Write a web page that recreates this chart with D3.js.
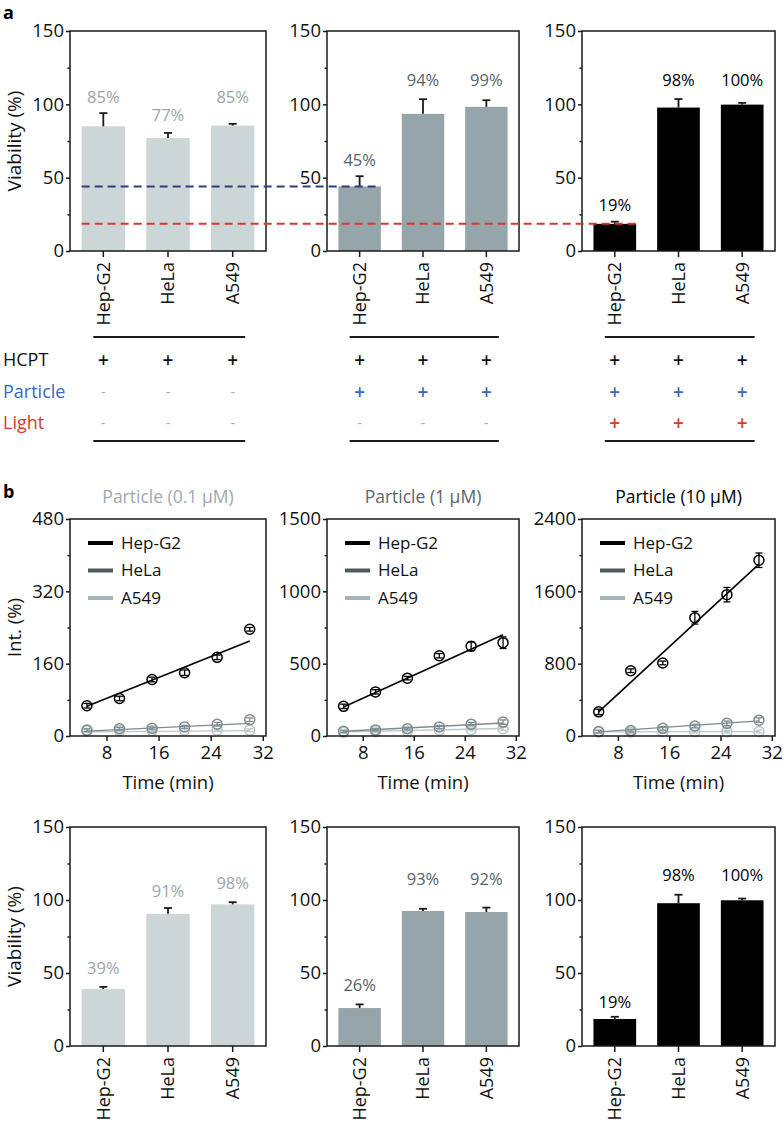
<!DOCTYPE html>
<html><head><meta charset="utf-8">
<script src="https://cdn.jsdelivr.net/npm/d3@7"></script>
<style>
body{margin:0;background:#fff;}
svg{display:block;font-family:"Open Sans","Noto Sans",sans-serif;}
</style></head><body>
<svg id="chart" width="784" height="1122"></svg>
<script>
// ---------------- DATA ----------------
const cellLines = ["Hep-G2", "HeLa", "A549"];
const viabilityTicks = [0, 50, 100, 150];
const viabilityMinor = [25, 75, 125];

// panel a: viability (%) for HCPT / HCPT+Particle / HCPT+Particle+Light
const viabilityA = [[85, 77, 85.5], [44, 93.5, 98.3], [18.5, 97.8, 99.8]];
const viabilityAErr = [[9, 3.5, 1.2], [7, 10, 4.5], [1.5, 5.8, 1.2]];
const viabilityALabels = [["85%", "77%", "85%"], ["45%", "94%", "99%"], ["19%", "98%", "100%"]];
const viabilityALabelAt = [[101, 88.6, 101], [58, 112.5, 112.5], [27.3, 112.5, 112.5]];

// treatment table
const treatments = ["HCPT", "Particle", "Light"];
const treatmentMarks = [
  [["+", "+", "+"], ["-", "-", "-"], ["-", "-", "-"]],
  [["+", "+", "+"], ["+", "+", "+"], ["-", "-", "-"]],
  [["+", "+", "+"], ["+", "+", "+"], ["+", "+", "+"]]
];

// panel b: intensity vs time
const particleTitles = ["Particle (0.1 \u00B5M)", "Particle (1 \u00B5M)", "Particle (10 \u00B5M)"];
const timePoints = [5, 10, 15, 20, 25, 30];
const timeTicks = [8, 16, 24, 32];
const intMax = [480, 1500, 2400];
const intTicks = [[0, 160, 320, 480], [0, 500, 1000, 1500], [0, 800, 1600, 2400]];
const intMinor = [[80, 240, 400], [250, 750, 1250], [400, 1200, 2000]];

const hepg2Int = [[67, 83, 125, 140, 174, 236], [205, 305, 400, 555, 620, 645], [267, 722, 808, 1308, 1563, 1944]];
const hepg2Err = [[5, 5, 5, 6, 5, 4], [15, 15, 12, 15, 30, 40], [30, 20, 20, 70, 80, 80]];
const helaInt = [[13, 16, 17, 20, 26, 36], [32, 42, 50, 62, 82, 96], [50, 60, 85, 110, 140, 175]];
const helaErr = [[3, 3, 3, 3, 4, 4], [8, 8, 8, 10, 12, 15], [15, 15, 20, 20, 25, 25]];
const a549Int = [[11, 12, 12, 13, 13, 13], [25, 30, 35, 42, 45, 50], [45, 45, 48, 48, 48, 50]];
const a549Err = [[3, 3, 3, 3, 3, 3], [8, 8, 8, 8, 10, 10], [15, 15, 15, 15, 15, 15]];
// linear fits (value at t = 5 and t = 30)
const hepg2Fit = [[66, 210], [200, 700], [267, 1900]];
const helaFit = [[11, 28], [33, 90], [45, 167]];
const a549Fit = [[9, 12], [28, 52], [45, 48]];

// panel b: viability
const viabilityB = [[39, 90.5, 97], [26, 92.5, 91.8], [18.5, 97.8, 99.8]];
const viabilityBErr = [[1.5, 4, 1.5], [2.5, 1.5, 3], [1.5, 5.8, 1.2]];
const viabilityBLabels = [["39%", "91%", "98%"], ["26%", "93%", "92%"], ["19%", "98%", "100%"]];
const viabilityBLabelAt = [[49.5, 102, 107.7], [37.7, 110, 110], [26, 113, 113]];

// ---------------- LAYOUT / STYLE ----------------
const svg = d3.select("#chart");
const panelX = [[70, 266], [327, 519], [582, 775]];
const barColors = ["#cdd6d6", "#96a5a9", "#000000"];
const labelColors = ["#9aa6a9", "#56646a", "#000000"];
const ink = "#1a1a1a";
const seriesColors = { hep: "#000000", hela: "#7f8b8f", a549: "#bcc6c8" };
const legendColors = ["#000000", "#4f5a5e", "#a6b4b7"];
const fmt = d3.format("d");

function styleAxis(g, size) {
  g.select(".domain").remove();
  g.selectAll(".tick line").attr("stroke", ink).attr("stroke-width", 1.5);
  g.selectAll(".tick text").attr("fill", "#111").style("font-size", size + "px").style("font-family", '"Open Sans","Noto Sans",sans-serif');
}

function barPanel(i, top, bottom, values, errs, labels, labelAt) {
  const x = d3.scaleBand().domain(cellLines).range(panelX[i]).paddingInner(0.33).paddingOuter(0.18);
  const y = d3.scaleLinear().domain([0, 150]).range([bottom, top]);
  const g = svg.append("g");
  g.selectAll("rect.bar").data(cellLines).join("rect").attr("class", "bar")
    .attr("x", d => x(d)).attr("width", x.bandwidth())
    .attr("y", (d, j) => y(values[j])).attr("height", (d, j) => y(0) - y(values[j]))
    .attr("fill", barColors[i]);
  const eb = g.selectAll("g.err").data(cellLines).join("g").attr("class", "err");
  eb.append("line")
    .attr("x1", d => x(d) + x.bandwidth() / 2).attr("x2", d => x(d) + x.bandwidth() / 2)
    .attr("y1", (d, j) => y(values[j])).attr("y2", (d, j) => y(values[j] + errs[j]))
    .attr("stroke", ink).attr("stroke-width", 1.8);
  eb.append("line")
    .attr("x1", d => x(d) + x.bandwidth() / 2 - 4).attr("x2", d => x(d) + x.bandwidth() / 2 + 4)
    .attr("y1", (d, j) => y(values[j] + errs[j])).attr("y2", (d, j) => y(values[j] + errs[j]))
    .attr("stroke", ink).attr("stroke-width", 1.8);
  g.selectAll("text.val").data(cellLines).join("text").attr("class", "val")
    .attr("x", d => x(d) + x.bandwidth() / 2).attr("y", (d, j) => y(labelAt[j]))
    .attr("text-anchor", "middle").attr("fill", labelColors[i]).style("font-size", "16.5px")
    .text((d, j) => labels[j]);
  g.append("rect").attr("x", panelX[i][0]).attr("y", top)
    .attr("width", panelX[i][1] - panelX[i][0]).attr("height", bottom - top)
    .attr("fill", "none").attr("stroke", ink).attr("stroke-width", 1.5);
  const ya = g.append("g").attr("transform", `translate(${panelX[i][0]},0)`)
    .call(d3.axisLeft(y).tickValues(viabilityTicks).tickSize(4).tickPadding(2).tickFormat(fmt));
  styleAxis(ya, 18.5);
  const ym = g.append("g").attr("transform", `translate(${panelX[i][0]},0)`)
    .call(d3.axisLeft(y).tickValues(viabilityMinor).tickSize(2.5).tickFormat(""));
  styleAxis(ym, 18);
  const xa = g.append("g").attr("transform", `translate(0,${bottom})`)
    .call(d3.axisBottom(x).tickSize(6));
  styleAxis(xa, 18);
  xa.selectAll(".tick text").attr("transform", "rotate(-90)").attr("x", -11).attr("y", 0)
    .attr("dy", "0.36em").attr("text-anchor", "end");
  return { x, y };
}

// ---- panel a ----
svg.append("text").attr("x", 3).attr("y", 19).style("font-size", "18px").style("font-weight", "bold").text("a");
const aTop = 31, aBottom = 251;
const panelsA = [0, 1, 2].map(i => barPanel(i, aTop, aBottom, viabilityA[i], viabilityAErr[i], viabilityALabels[i], viabilityALabelAt[i]));
svg.append("text").attr("transform", `translate(21,${(aTop + aBottom) / 2}) rotate(-90)`)
  .attr("text-anchor", "middle").style("font-size", "19px").attr("fill", "#111").text("Viability (%)");

// reference dashed lines (Hep-G2 level of panels 2 and 3)
const p0 = panelsA[0];
const startX = p0.x(cellLines[0]);
[[1, "#2b3f7c"], [2, "#d8392a"]].forEach(([k, col]) => {
  const pk = panelsA[k];
  const yy = pk.y(viabilityA[k][0]);
  svg.append("line").attr("x1", startX).attr("x2", pk.x(cellLines[0]) + pk.x.bandwidth())
    .attr("y1", yy).attr("y2", yy).attr("stroke", col).attr("stroke-width", 2)
    .attr("stroke-dasharray", "8,5");
});

// ---- treatment table ----
const rowY = [360, 392, 423];
const rowColors = ["#111111", "#3a67c0", "#d8392a"];
const markColors = ["#111111", "#3a67c0", "#d8392a"];
treatments.forEach((t, r) => {
  svg.append("text").attr("x", 3).attr("y", rowY[r]).attr("dy", "0.35em")
    .style("font-size", "18px").attr("fill", rowColors[r]).text(t);
});
panelsA.forEach((p, i) => {
  const cx = cellLines.map(c => p.x(c) + p.x.bandwidth() / 2);
  [337, 441].forEach(ly => {
    svg.append("line").attr("x1", cx[0] - 10).attr("x2", cx[2] + 12.5)
      .attr("y1", ly).attr("y2", ly).attr("stroke", ink).attr("stroke-width", 2);
  });
  treatmentMarks[i].forEach((row, r) => {
    row.forEach((m, j) => {
      svg.append("text").attr("x", cx[j]).attr("y", rowY[r]).attr("dy", "0.35em")
        .attr("text-anchor", "middle")
        .style("font-size", m === "+" ? "19px" : "14px")
        .style("font-weight", m === "+" ? "600" : "400")
        .attr("fill", m === "+" ? markColors[r] : "#a3abad").text(m);
    });
  });
});

// ---- panel b: line charts ----
svg.append("text").attr("x", 3).attr("y", 498).style("font-size", "18px").style("font-weight", "bold").text("b");
const lTop = 519, lBottom = 736;
const titleColors = ["#9ea9ac", "#5a666b", "#000000"];
[0, 1, 2].forEach(i => {
  const x = d3.scaleLinear().domain([2.4, 32.5]).range(panelX[i]);
  const y = d3.scaleLinear().domain([0, intMax[i]]).range([lBottom, lTop]);
  const g = svg.append("g");
  g.append("text").attr("x", (panelX[i][0] + panelX[i][1]) / 2).attr("y", 503)
    .attr("text-anchor", "middle").style("font-size", "17.5px").attr("fill", titleColors[i]).text(particleTitles[i]);
  const series = [
    { v: a549Int[i], e: a549Err[i], f: a549Fit[i], c: seriesColors.a549, w: 1.3 },
    { v: helaInt[i], e: helaErr[i], f: helaFit[i], c: seriesColors.hela, w: 1.3 },
    { v: hepg2Int[i], e: hepg2Err[i], f: hepg2Fit[i], c: seriesColors.hep, w: 1.6 }
  ];
  const line = d3.line().x(d => x(d[0])).y(d => y(d[1]));
  series.forEach(s => {
    g.append("path").datum([[timePoints[0], s.f[0]], [timePoints[timePoints.length - 1], s.f[1]]])
      .attr("d", line).attr("fill", "none").attr("stroke", s.c).attr("stroke-width", s.w);
    const pts = g.append("g");
    timePoints.forEach((t, k) => {
      const cx = x(t), v = s.v[k], e = s.e[k];
      pts.append("line").attr("x1", cx).attr("x2", cx).attr("y1", y(v - e)).attr("y2", y(v + e))
        .attr("stroke", s.c).attr("stroke-width", 1.3);
      [v - e, v + e].forEach(ev => pts.append("line").attr("x1", cx - 3.5).attr("x2", cx + 3.5)
        .attr("y1", y(ev)).attr("y2", y(ev)).attr("stroke", s.c).attr("stroke-width", 1.3));
      pts.append("circle").attr("cx", cx).attr("cy", y(v)).attr("r", 5)
        .attr("fill", "none").attr("stroke", s.c).attr("stroke-width", 1.5);
    });
  });
  g.append("rect").attr("x", panelX[i][0]).attr("y", lTop)
    .attr("width", panelX[i][1] - panelX[i][0]).attr("height", lBottom - lTop)
    .attr("fill", "none").attr("stroke", ink).attr("stroke-width", 1.5);
  const ya = g.append("g").attr("transform", `translate(${panelX[i][0]},0)`)
    .call(d3.axisLeft(y).tickValues(intTicks[i]).tickSize(4).tickPadding(2).tickFormat(fmt));
  styleAxis(ya, 18.5);
  const ym = g.append("g").attr("transform", `translate(${panelX[i][0]},0)`)
    .call(d3.axisLeft(y).tickValues(intMinor[i]).tickSize(2.5).tickFormat(""));
  styleAxis(ym, 18);
  const xa = g.append("g").attr("transform", `translate(0,${lBottom})`)
    .call(d3.axisBottom(x).tickValues(timeTicks).tickSize(5).tickPadding(5).tickFormat(fmt));
  styleAxis(xa, 18.5);
  g.append("text").attr("x", (panelX[i][0] + panelX[i][1]) / 2).attr("y", 789)
    .attr("text-anchor", "middle").style("font-size", "18.5px").attr("fill", "#111").text("Time (min)");
  const lx = panelX[i][0] + 18;
  cellLines.forEach((c, k) => {
    const ly = 543 + k * 27.5;
    g.append("line").attr("x1", lx).attr("x2", lx + 25).attr("y1", ly).attr("y2", ly)
      .attr("stroke", legendColors[k]).attr("stroke-width", 4);
    g.append("text").attr("x", lx + 33).attr("y", ly).attr("dy", "0.35em")
      .style("font-size", "17px").attr("fill", "#111").text(c);
  });
});
svg.append("text").attr("transform", `translate(21,${(lTop + lBottom) / 2}) rotate(-90)`)
  .attr("text-anchor", "middle").style("font-size", "18.5px").attr("fill", "#111").text("Int. (%)");

// ---- panel b: viability ----
const bTop = 827, bBottom = 1046;
[0, 1, 2].forEach(i => barPanel(i, bTop, bBottom, viabilityB[i], viabilityBErr[i], viabilityBLabels[i], viabilityBLabelAt[i]));
svg.append("text").attr("transform", `translate(21,${(bTop + bBottom) / 2}) rotate(-90)`)
  .attr("text-anchor", "middle").style("font-size", "19px").attr("fill", "#111").text("Viability (%)");
</script>
</body></html>
